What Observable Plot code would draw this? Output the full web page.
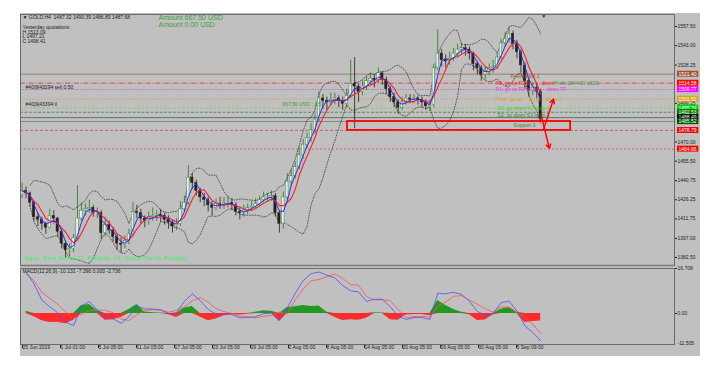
<!DOCTYPE html>
<html><head><meta charset="utf-8">
<script src="https://cdn.jsdelivr.net/npm/d3@7"></script>
<script src="https://cdn.jsdelivr.net/npm/@observablehq/plot@0.6"></script>
<style>
body{margin:0;background:#fff;}
#wrap{position:relative;width:717px;height:371px;overflow:hidden;font-family:"Liberation Sans",Arial,sans-serif;}
#bg{position:absolute;left:20px;top:13px;width:680px;height:343px;background:#c0c0c0;}
#main{position:absolute;left:20px;top:13px;}
#macd{position:absolute;left:20px;top:266px;}
svg{overflow:visible}
</style></head><body>
<div id="wrap"><div id="bg"></div><div id="main"></div><div id="macd"></div></div>
<script>
// ---- price data (GOLD H4, each candle ~2.5 H4 bars) ----
const firstOpen = 1430;
const closes = [1433,1431,1424,1413,1411,1408,1405,1414,1412,1402,
 1393,1388,1389,1397,1412,1418,1419,1420,1416,1416,
 1401,1407,1403,1398,1393,1392,1395,1400,1417,1416,
 1412,1410,1413,1414,1415,1414,1411,1409,1406,1408,
 1419,1424,1443,1439,1433,1428,1426,1422,1420,1423,
 1422,1424,1424,1422,1417,1416,1418,1420,1421,1423,
 1426,1428,1428,1429,1416,1408,1428,1440,1444,1451,
 1460,1468,1473,1479,1487,1503,1501,1500,1502,1503,
 1501,1499,1505,1514,1512,1508,1512,1516,1518,1517,
 1522,1517,1510,1504,1500,1496,1500,1503,1502,1503,
 1502,1500,1497,1498,1526,1537,1532,1531,1533,1537,
 1540,1541,1540,1537,1529,1526,1521,1523,1526,1527,
 1534,1545,1548,1552,1544,1538,1528,1516,1509,1511,
 1508,1487.68];
const highs = [1439,1436,1432,1425,1416,1413,1409,1419,1418,1413,
 1404,1395,1393,1400,1437,1424,1423,1426,1422,1420,
 1418,1413,1410,1405,1400,1397,1399,1404,1424,1422,
 1419,1414,1417,1420,1418,1419,1416,1414,1411,1412,
 1425,1429,1452,1446,1441,1435,1431,1428,1425,1427,
 1428,1428,1429,1427,1424,1420,1422,1423,1425,1427,
 1429,1432,1431,1433,1431,1418,1432,1446,1449,1455,
 1466,1472,1477,1484,1491,1508,1506,1504,1507,1507,
 1505,1504,1510,1532,1534,1514,1517,1520,1522,1521,
 1526,1523,1519,1512,1507,1502,1504,1506,1506,1506,
 1505,1504,1502,1502,1529,1555,1540,1536,1538,1541,
 1544,1545,1544,1542,1538,1531,1528,1527,1529,1532,
 1538,1548,1553,1557,1554,1547,1540,1530,1518,1515,
 1514,1510];
const lows = [1427,1427,1421,1410,1406,1403,1400,1404,1408,1398,
 1389,1382,1383,1386,1396,1410,1414,1416,1413,1412,
 1396,1398,1400,1394,1388,1386,1389,1392,1398,1412,
 1408,1405,1407,1410,1410,1409,1407,1404,1401,1403,
 1406,1417,1422,1434,1429,1424,1421,1417,1414,1418,
 1419,1419,1420,1418,1414,1411,1413,1415,1417,1419,
 1421,1424,1424,1425,1413,1401,1404,1426,1437,1442,
 1449,1457,1465,1470,1476,1485,1495,1494,1497,1498,
 1496,1494,1496,1503,1480,1500,1505,1509,1512,1511,
 1514,1513,1506,1500,1496,1491,1494,1498,1499,1499,
 1498,1496,1494,1493,1496,1524,1527,1526,1528,1531,
 1534,1536,1535,1532,1524,1521,1516,1517,1520,1522,
 1525,1532,1542,1545,1540,1533,1522,1510,1504,1505,
 1503,1485];

// ---- MACD(12,26,9) values, every second candle ----
const macdMain = [15.5,11,5,2.5,0.3,-3.2,-4.5,2.8,4.4,1.3,
 -0.7,-2.0,-3.6,-1.2,2.9,1.7,1.7,1.4,0,0.3,
 4.5,7.3,4.8,1.5,-0.2,-0.1,-0.4,-1.6,-1.5,-1.2,
 -0.1,0.1,-2.5,2.0,7.5,12.2,14.8,15.4,14.2,13.2,
 10.4,8.4,8,4.5,5.3,5.3,2.5,-1,-2.2,-1.5,
 -1.5,-2.2,7.5,7.3,7.9,7.1,4.5,0.8,-0.7,0,
 4,4.6,0.9,-4.6,-7,-10.131];
const macdSignal = [14.7,12.2,7.9,5.6,3.5,0.6,-2.0,-0.2,1.1,1.3,
 1.2,0.3,-2.0,-2.6,-0.4,1.1,1.4,1.2,0.5,1.2,
 2.5,4.7,6.0,4.2,1.8,0.7,0,-1.0,-1.2,-1.6,
 -1.1,-0.7,0.5,-0.2,5.0,9.2,12.2,12.6,13.7,14.7,
 13.0,10.7,10.5,6.3,5.0,5.1,4.8,1.5,-1.6,-1.1,
 -1.1,-1.4,2.7,4.3,6.4,6.6,5.0,3.4,1.7,0.5,
 2.4,2.4,0.4,-1.3,-4.0,-7.396];
const macdHist = [0.8,-1.2,-2.7,-3.3,-3.2,-3.8,-2.5,3,3.3,1,
 -2.5,-2.3,-1.5,1.5,3.3,0.6,0.3,0.2,-0.5,-1.5,
 2,2.6,-1.3,-2.7,-2,-0.8,-0.4,-0.6,-0.3,0.5,
 1,0.8,-3,2.2,2.5,3,2.6,2.8,0.5,-1.5,
 -2.6,-2.3,-2.5,-1.8,0.3,0.2,-2.3,-2.5,-0.6,-0.4,
 -0.4,-0.8,4.8,3,1.5,0.5,-0.5,-2.6,-2.4,-0.5,
 1.6,2.2,0.5,-3.3,-3,-2.736];

// ---- axis labels ----
const tickLabels = ["25 Jun 2019","1 Jul 01:00","5 Jul 05:00","11 Jul 05:00","17 Jul 05:00","23 Jul 05:00","29 Jul 05:00","2 Aug 05:00","8 Aug 05:00","14 Aug 05:00","20 Aug 05:00","26 Aug 05:00","30 Aug 05:00","5 Sep 09:00"];
const priceTicks = [1557.50,1543.00,1528.25,1499.25,1470.00,1455.50,1440.75,1426.25,1411.75,1397.00,1382.50];
const macdTicks = [16.708, 0];
const macdTickLabels = ["16.708","0.00"];
const macdMin = -11.505;

// ---- horizontal levels ----
const levelPrices = [1521.40,1514.58,1509.77,1502.50,1495.74,1492.53,1488.49,1485.52,1478.79,1464.66];
const levelLineColors = ["#a0674a","#e03030","#b070c8","#d0a040","#9ac040","#3a8a3a","#5a5a5a","#6e7e6e","#e04040","#e05050"];
const levelDashes = ["none","5,1.5,1,1.5","1.5,1","1.5,1.5","3,1.5","3,1.5","none","none","3,2","2,2"];
const levelTagColors = ["#a0522d","#ff0000","#ff00ff","#daa520","#00dd00","#008000","#000000","#005500","#ff0000","#ff0000"];

// ---- annotations ----
const annoText = ["Resistance 1","R2: go up R2 lo        down","(Profit 1544.00 USD)","R1: go up R1 lo up       down TP","Pivot: go up     lo up    down 1","S1: go down S1 lo up 1","S2: go down S3 lo up 1","Support 3","667.50 USD : 1.5","#40|9|43294 sell 0.50","#40|9|43394 tl","Signal · Trend: Neutral (C)   Probability: 0%   Neutral Time Ch. Probability"];
const annoBar = [309.5,300,336,300,300,301.3,301.3,311.4,165.5,3.2,3.2,2.5];
const annoPrice = [1519.6,1514.3,1514.3,1509.8,1502.2,1495.4,1490.1,1482.9,1498.4,1511.3,1498.4,1381.7];
const annoColor = ["#a0522d","#ff2020","#4f9a4f","#e040e0","#d8a030","#30d830","#2f8a2f","#2f8a2f","#3a9a3a","#202020","#202020","#30f060"];

const supportBox = {bar1: 206.5, bar2: 347.4, p1: 1478.79, p2: 1485.52};
const arrowsData = [
  {b1: 330.3, p1: 1479.5, b2: 336.6, p2: 1502.4},
  {b1: 329.0, p1: 1489.3, b2: 334.0, p2: 1465.1}
];

// ---- derived tables ----
const candles = closes.map((c, i) => ({
  bar: 1 + 2.5 * i, open: i ? closes[i - 1] : firstOpen, close: c, high: highs[i], low: lows[i]
}));
const bb = [];
candles.forEach((d, i) => {
  const w = closes.slice(Math.max(0, i - 7), i + 1);
  if (w.length < 3) return;
  const m = d3.mean(w);
  const s = Math.sqrt(d3.mean(w, v => (v - m) ** 2));
  bb.push({bar: d.bar, up: m + 2 * s, lo: m - 2 * s});
});
const macd = macdMain.map((m, k) => ({bar: 1 + 2.5 * (2 * k + 1), main: m, signal: macdSignal[k], hist: macdHist[k]}));
const annos = annoText.map((t, i) => ({t, bar: annoBar[i], price: annoPrice[i], color: annoColor[i]}));
const tickBars = tickLabels.map((_, k) => 24 * k);

const font = "Liberation Sans, Arial, sans-serif";
const up = d => d.close >= d.open;

const mainPlot = Plot.plot({
  width: 680, height: 253,
  marginLeft: 0, marginRight: 26, marginTop: 1, marginBottom: 1,
  style: {background: "transparent", fontFamily: font, overflow: "visible"},
  x: {domain: [0, 413], axis: null},
  y: {domain: [1376.44, 1566.59], axis: null},
  marks: [
    ...levelPrices.map((p, i) => Plot.ruleY([p], {stroke: levelLineColors[i], strokeWidth: 0.8, strokeDasharray: levelDashes[i]})),
    Plot.line(bb, {x: "bar", y: "up", stroke: "#2a2a2a", strokeWidth: 0.7, strokeDasharray: "1,1.6"}),
    Plot.line(bb, {x: "bar", y: "lo", stroke: "#2a2a2a", strokeWidth: 0.7, strokeDasharray: "1,1.6"}),
    Plot.ruleX(candles, {x: "bar", y1: "low", y2: "high", stroke: d => up(d) ? "#1f7a1f" : "#2a1e16", strokeWidth: 0.8}),
    Plot.rect(candles, {x1: d => d.bar - 0.75, x2: d => d.bar + 0.75, y1: "open", y2: "close",
      fill: d => up(d) ? "#ececec" : "#2b1f17", stroke: d => up(d) ? "#1f7a1f" : "#2b1f17", strokeWidth: 0.4}),
    Plot.lineY(candles, Plot.windowY({k: 5, anchor: "end"}, {x: "bar", y: "close", stroke: "#ff2020", strokeWidth: 1.1})),
    Plot.lineY(candles, Plot.windowY({k: 3, anchor: "end"}, {x: "bar", y: "close", stroke: "#2030ff", strokeWidth: 1})),
    Plot.text(annos, {x: "bar", y: "price", text: "t", fill: "color", fontSize: 5, textAnchor: "start"}),
    Plot.rect([supportBox], {x1: "bar1", x2: "bar2", y1: "p1", y2: "p2", stroke: "#ff0000", strokeWidth: 1.8, fill: "none"}),
    Plot.arrow(arrowsData, {x1: "b1", y1: "p1", x2: "b2", y2: "p2", stroke: "#ff0000", strokeWidth: 1.4, headLength: 5}),
    Plot.text(["▼ GOLD,H4  1487.32 1490.39 1486.89 1487.68"], {text: d => d, frameAnchor: "top-left", dx: 2, dy: 1, lineAnchor: "top", textAnchor: "start", fontSize: 5, fill: "#202020"}),
    Plot.text(["Yesterday quotations:\nH 1513.09\nL 1497.21\nC 1498.41"], {text: d => d, frameAnchor: "top-left", dx: 2, dy: 11.5, lineAnchor: "top", textAnchor: "start", fontSize: 5, lineHeight: 0.92, fill: "#202020"}),
    Plot.text(["Amount 667.50 USD\nAmount 0.00 USD"], {text: d => d, frameAnchor: "top-left", dx: 138, dy: 0.5, lineAnchor: "top", textAnchor: "start", fontSize: 7, lineHeight: 1, fill: "#3ca03c"}),
    Plot.text(["▼"], {x: [330.4], text: d => d, frameAnchor: "top", dy: 0, lineAnchor: "top", fontSize: 5, fill: "#303030"}),
    Plot.axisY(priceTicks, {anchor: "right", label: null, tickSize: 2, tickPadding: 1, tickFormat: d => d.toFixed(2), fontSize: 5, color: "#202020"}),
    Plot.text(levelPrices, {y: d => d, text: d => d.toFixed(2), frameAnchor: "right", dx: 4, textAnchor: "start", fill: "white", fontSize: 5, ariaDescription: "tags"}),
    Plot.frame({stroke: "#6b6b6b"}),
    Plot.ruleY([1376.44], {stroke: "#7a7a7a", strokeWidth: 1.6})
  ]
});
document.getElementById("main").appendChild(mainPlot);

// colored backgrounds behind price tags
const tagG = mainPlot.querySelector('g[aria-description="tags"]');
if (tagG) {
  tagG.querySelectorAll("text").forEach((t, i) => {
    const b = t.getBBox();
    const r = document.createElementNS("http://www.w3.org/2000/svg", "rect");
    r.setAttribute("x", b.x - 1.5); r.setAttribute("y", b.y);
    r.setAttribute("width", b.width + 3); r.setAttribute("height", b.height);
    r.setAttribute("fill", levelTagColors[i]);
    if (t.getAttribute("transform")) r.setAttribute("transform", t.getAttribute("transform"));
    tagG.insertBefore(r, t);
  });
}

const macdPlot = Plot.plot({
  width: 680, height: 90,
  marginLeft: 0, marginRight: 26, marginTop: 2, marginBottom: 12,
  style: {background: "transparent", fontFamily: font, overflow: "visible"},
  x: {domain: [0, 413], axis: null},
  y: {domain: [macdMin, 16.708], axis: null},
  marks: [
    Plot.areaY(macd, {x: "bar", y: d => Math.max(0, d.hist), fill: "#229a22"}),
    Plot.areaY(macd, {x: "bar", y: d => Math.min(0, d.hist), fill: "#ff2a2a"}),
    Plot.line(macd, {x: "bar", y: "signal", stroke: "#ff5050", strokeWidth: 0.8, clip: true}),
    Plot.line(macd, {x: "bar", y: "main", stroke: "#4f4fff", strokeWidth: 0.8, clip: true}),
    Plot.text(["MACD(12,26,9) -10.131 -7.396 0.000 -2.736"], {text: d => d, frameAnchor: "top-left", dx: 2, dy: 1, lineAnchor: "top", textAnchor: "start", fontSize: 5, fill: "#202020"}),
    Plot.axisY(macdTicks, {anchor: "right", label: null, tickSize: 2, tickPadding: 1, tickFormat: d => macdTickLabels[macdTicks.indexOf(d)], fontSize: 5, color: "#202020"}),
    Plot.tickY([macdMin], {y: d => d, frameAnchor: "right", stroke: "#202020"}),
    Plot.text([macdMin], {y: d => d, text: d => d.toFixed(3), frameAnchor: "right", dx: 3, textAnchor: "start", lineAnchor: "bottom", fontSize: 5, fill: "#202020"}),
    Plot.axisX(tickBars, {anchor: "bottom", label: null, tickSize: 4, tickPadding: -3, textAnchor: "start", dx: 2, tickFormat: d => tickLabels[d / 24], fontSize: 5, color: "#202020"}),
    Plot.frame({stroke: "#6b6b6b"})
  ]
});
document.getElementById("macd").appendChild(macdPlot);
</script>
</body></html>
